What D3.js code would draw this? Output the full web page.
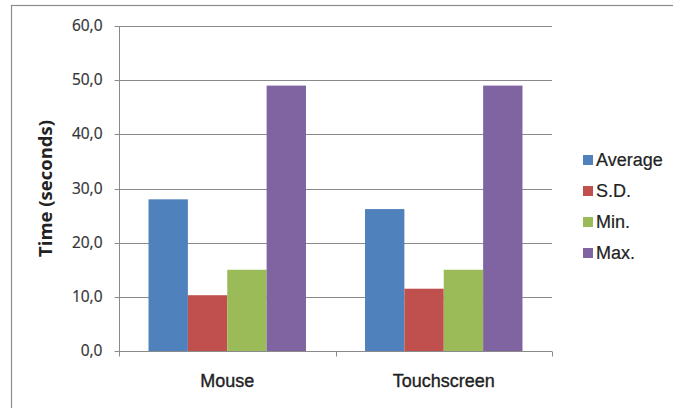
<!DOCTYPE html>
<html><head><meta charset="utf-8">
<script src="https://cdn.jsdelivr.net/npm/d3@7"></script>
<style>html,body{margin:0;padding:0;background:#fff;}svg{display:block;}</style>
</head><body>
<svg id="c" width="673" height="408"></svg>
<script>
const categories = ["Mouse", "Touchscreen"];
const seriesNames = ["Average", "S.D.", "Min.", "Max."];
const seriesColors = ["#4F81BD", "#C0504D", "#9BBB59", "#8064A2"];
const average = [28.0, 26.2];
const sd = [10.3, 11.5];
const minV = [15.0, 15.0];
const maxV = [49.0, 49.0];
const yTicks = [0, 10, 20, 30, 40, 50, 60];
const yLabel = "Time (seconds)";

const seriesValues = [average, sd, minV, maxV];
const svg = d3.select("#c");
const m = {left: 119, right: 552, top: 26, bottom: 351};

// outer chart border
svg.append("rect").attr("x", 11.5).attr("y", 5.5).attr("width", 700).attr("height", 500)
  .attr("fill", "#fff").attr("stroke", "#8c8c8c").attr("stroke-width", 1.2);

const x0 = d3.scaleBand().domain(categories).range([m.left, m.right]).paddingInner(0).paddingOuter(0);
const innerPad = 1.5 / 5.5 / 2;
const x1 = d3.scaleBand().domain(seriesNames)
  .range([x0.bandwidth() * innerPad, x0.bandwidth() * (1 - innerPad)]);
const y = d3.scaleLinear().domain([0, 60]).range([m.bottom, m.top]);

// gridlines
svg.append("g").selectAll("line").data(yTicks.filter(d => d > 0)).join("line")
  .attr("x1", m.left).attr("x2", m.right)
  .attr("y1", d => Math.round(y(d)) + 0.5).attr("y2", d => Math.round(y(d)) + 0.5)
  .attr("stroke", "#8a8a8a").attr("stroke-width", 1);

// bars
const groups = svg.append("g").selectAll("g").data(categories).join("g")
  .attr("transform", d => `translate(${x0(d)},0)`);
groups.selectAll("rect").data((c, ci) => seriesNames.map((s, si) => ({s, si, v: seriesValues[si][ci]})))
  .join("rect")
  .attr("x", d => x1(d.s)).attr("width", x1.bandwidth())
  .attr("y", d => y(d.v)).attr("height", d => y(0) - y(d.v))
  .attr("fill", d => seriesColors[d.si]);

// y axis
const fmt = d => d3.format(".1f")(d).replace(".", ",");
const yAxis = svg.append("g").attr("transform", `translate(${m.left + 0.5},0)`)
  .call(d3.axisLeft(y).tickValues(yTicks).tickFormat(fmt).tickSize(5).tickPadding(12));
yAxis.select(".domain").attr("stroke", "#8a8a8a").attr("d", `M0,${m.top}V${m.bottom}`);
yAxis.selectAll(".tick line").attr("stroke", "#8a8a8a");
yAxis.selectAll(".tick").attr("transform", d => `translate(0,${Math.round(y(d)) + 0.5})`);
yAxis.selectAll("text").attr("font-family", "'Open Sans', sans-serif").attr("font-size", 15.5)
  .attr("fill", "#333").attr("stroke", "#333").attr("stroke-width", 0.2);

// x axis
const xAxis = svg.append("g").attr("transform", `translate(0,${Math.round(y(0)) + 0.5})`);
xAxis.append("line").attr("x1", m.left).attr("x2", m.right).attr("stroke", "#8a8a8a");
const bounds = [m.left, ...categories.map(c => x0(c) + x0.bandwidth())];
xAxis.selectAll("line.t").data(bounds).join("line").attr("class", "t")
  .attr("x1", d => Math.round(d) + 0.5).attr("x2", d => Math.round(d) + 0.5)
  .attr("y1", 0).attr("y2", 5).attr("stroke", "#8a8a8a");
xAxis.selectAll("text").data(categories).join("text")
  .attr("x", d => x0(d) + x0.bandwidth() / 2).attr("y", 35)
  .attr("text-anchor", "middle")
  .attr("font-family", "'Liberation Sans', Arial, sans-serif").attr("font-size", 18)
  .attr("fill", "#222").attr("stroke", "#222").attr("stroke-width", 0.35).text(d => d);

// y label
svg.append("text").attr("transform", `translate(52,${(m.top + m.bottom) / 2}) rotate(-90)`)
  .attr("text-anchor", "middle")
  .attr("font-family", "'Open Sans', sans-serif").attr("font-weight", "bold").attr("font-size", 18.5)
  .attr("fill", "#222").text(yLabel);

// legend
const leg = svg.append("g").selectAll("g").data(seriesNames).join("g")
  .attr("transform", (d, i) => `translate(583,${160 + i * 31})`);
leg.append("rect").attr("x", 0).attr("y", -5).attr("width", 10).attr("height", 10)
  .attr("fill", (d, i) => seriesColors[i]);
leg.append("text").attr("x", 13).attr("y", 0).attr("dy", "0.35em")
  .attr("font-family", "'Liberation Sans', Arial, sans-serif").attr("font-size", 18)
  .attr("fill", "#222").attr("stroke", "#222").attr("stroke-width", 0.2).text(d => d);
</script>
</body></html>
